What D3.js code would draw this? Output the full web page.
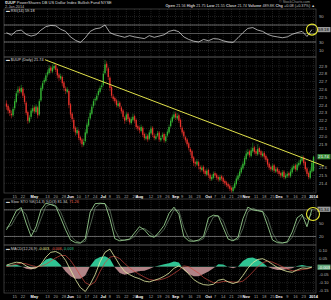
<!DOCTYPE html>
<html>
<head>
<meta charset="utf-8">
<script src="https://cdn.jsdelivr.net/npm/d3@7"></script>
<style>
  body { margin: 0; background: #000; }
  svg { display: block; font-family: "Liberation Sans", Arial, sans-serif; }
</style>
</head>
<body>
<div class="wrapper"></div>
<script>
// daily bars, 8-Apr-2013 .. 2-Jan-2014 (trading day index 0..187)
const opens = [
  22.42,22.39,22.34,22.29,22.27,22.36,22.44,22.56,22.61,22.57,
  22.61,22.52,22.43,22.31,22.19,22.25,22.32,22.37,22.31,22.37,
  22.28,22.46,22.61,22.69,22.71,22.79,22.81,22.88,22.83,22.87,
  22.91,22.86,22.79,22.74,22.76,22.69,22.61,22.57,22.58,22.41,
  22.29,22.21,22.11,22.04,22.07,21.99,21.96,21.89,21.94,22.04,
  22.14,22.23,22.29,22.39,22.46,22.47,22.53,22.57,22.63,22.66,
  22.81,22.93,22.87,22.75,22.63,22.51,22.49,22.46,22.39,22.43,
  22.37,22.33,22.24,22.21,22.29,22.23,22.17,22.21,22.26,22.21,
  22.13,22.11,22.07,22.11,22.03,21.97,22.01,21.97,22.04,22.11,
  22.01,21.97,22.01,22.05,21.95,21.99,22.03,21.94,22.01,22.05,
  22.13,22.19,22.24,22.29,22.23,22.27,22.21,22.11,22.06,21.99,
  21.96,21.91,21.84,21.81,21.73,21.67,21.64,21.67,21.61,21.57,
  21.61,21.56,21.51,21.57,21.51,21.45,21.47,21.53,21.51,21.48,
  21.44,21.49,21.47,21.43,21.41,21.39,21.37,21.34,21.30,21.34,
  21.39,21.45,21.49,21.54,21.59,21.64,21.71,21.77,21.81,21.75,
  21.81,21.86,21.81,21.77,21.85,21.81,21.75,21.79,21.75,21.71,
  21.65,21.61,21.57,21.63,21.55,21.59,21.56,21.53,21.49,21.55,
  21.47,21.49,21.53,21.49,21.54,21.59,21.63,21.57,21.63,21.65,
  21.69,21.73,21.67,21.59,21.53,21.47,21.55,21.56]
const highs = [
  22.46,22.41,22.37,22.33,22.38,22.48,22.58,22.64,22.64,22.66,
  22.63,22.55,22.45,22.33,22.27,22.36,22.40,22.39,22.41,22.39,
  22.48,22.65,22.71,22.75,22.81,22.85,22.91,22.90,22.92,22.95,
  22.93,22.88,22.81,22.80,22.78,22.71,22.64,22.63,22.60,22.43,
  22.31,22.24,22.13,22.12,22.09,22.01,21.98,21.97,22.09,22.18,
  22.25,22.34,22.41,22.48,22.50,22.55,22.61,22.65,22.68,22.84,
  22.98,22.96,22.89,22.77,22.65,22.54,22.51,22.48,22.46,22.45,
  22.39,22.35,22.26,22.31,22.31,22.25,22.25,22.29,22.28,22.23,
  22.15,22.13,22.15,22.13,22.05,22.04,22.03,22.08,22.13,22.13,
  22.04,22.03,22.07,22.07,22.01,22.05,22.05,22.03,22.09,22.15,
  22.23,22.28,22.32,22.31,22.30,22.29,22.23,22.13,22.08,22.01,
  21.98,21.93,21.86,21.83,21.75,21.69,21.71,21.69,21.63,21.63,
  21.63,21.58,21.59,21.59,21.53,21.51,21.55,21.55,21.53,21.50,
  21.51,21.51,21.49,21.45,21.43,21.41,21.39,21.36,21.38,21.43,
  21.49,21.53,21.58,21.63,21.68,21.75,21.82,21.84,21.83,21.86,
  21.92,21.88,21.83,21.90,21.87,21.83,21.81,21.81,21.77,21.73,
  21.67,21.63,21.65,21.65,21.61,21.61,21.58,21.55,21.57,21.57,
  21.53,21.55,21.55,21.58,21.63,21.65,21.65,21.67,21.69,21.73,
  21.76,21.75,21.69,21.61,21.55,21.59,21.69,21.75]
const lows = [
  22.34,22.29,22.26,22.23,22.25,22.33,22.42,22.52,22.55,22.55,
  22.49,22.41,22.27,22.16,22.17,22.22,22.30,22.29,22.29,22.23,
  22.26,22.44,22.58,22.66,22.69,22.76,22.79,22.81,22.81,22.85,
  22.82,22.74,22.71,22.72,22.64,22.58,22.54,22.55,22.36,22.24,
  22.18,22.06,22.01,22.02,21.95,21.91,21.86,21.87,21.92,22.02,
  22.12,22.21,22.27,22.36,22.40,22.45,22.51,22.55,22.60,22.64,
  22.79,22.84,22.72,22.58,22.49,22.45,22.42,22.37,22.37,22.35,
  22.29,22.22,22.16,22.19,22.19,22.15,22.15,22.19,22.17,22.09,
  22.07,22.04,22.05,21.99,21.95,21.95,21.93,21.95,22.02,21.99,
  21.95,21.95,21.99,21.93,21.93,21.97,21.92,21.92,21.99,22.03,
  22.11,22.17,22.22,22.21,22.21,22.17,22.09,22.02,21.97,21.92,
  21.87,21.82,21.76,21.68,21.62,21.61,21.62,21.58,21.54,21.55,
  21.52,21.49,21.49,21.47,21.43,21.43,21.45,21.47,21.44,21.42,
  21.42,21.43,21.39,21.37,21.35,21.33,21.30,21.28,21.28,21.32,
  21.37,21.43,21.47,21.52,21.57,21.62,21.69,21.75,21.73,21.73,
  21.79,21.77,21.75,21.75,21.77,21.73,21.73,21.71,21.67,21.61,
  21.57,21.55,21.55,21.53,21.53,21.52,21.49,21.47,21.47,21.45,
  21.45,21.47,21.47,21.47,21.52,21.57,21.55,21.55,21.61,21.63,
  21.67,21.63,21.55,21.49,21.45,21.45,21.53,21.55]
const closes = [
  22.38,22.33,22.30,22.27,22.35,22.45,22.55,22.60,22.58,22.62,
  22.52,22.44,22.30,22.20,22.24,22.33,22.36,22.32,22.38,22.27,
  22.45,22.62,22.68,22.72,22.78,22.82,22.87,22.84,22.88,22.90,
  22.85,22.78,22.75,22.77,22.68,22.62,22.58,22.60,22.40,22.28,
  22.22,22.10,22.05,22.08,21.98,21.95,21.90,21.93,22.05,22.15,
  22.22,22.30,22.38,22.45,22.48,22.52,22.58,22.62,22.65,22.80,
  22.92,22.88,22.76,22.62,22.52,22.48,22.45,22.40,22.42,22.38,
  22.32,22.25,22.20,22.28,22.22,22.18,22.22,22.25,22.20,22.12,
  22.10,22.08,22.12,22.02,21.98,22.00,21.96,22.05,22.10,22.02,
  21.98,22.00,22.04,21.96,21.98,22.02,21.95,22.00,22.06,22.12,
  22.20,22.25,22.28,22.24,22.26,22.20,22.12,22.05,22.00,21.95,
  21.90,21.85,21.80,21.72,21.66,21.65,21.68,21.62,21.58,21.60,
  21.55,21.52,21.56,21.50,21.46,21.48,21.52,21.50,21.47,21.45,
  21.48,21.46,21.42,21.40,21.38,21.36,21.33,21.31,21.35,21.40,
  21.46,21.50,21.55,21.60,21.65,21.72,21.78,21.80,21.76,21.82,
  21.85,21.80,21.78,21.84,21.80,21.76,21.78,21.74,21.70,21.64,
  21.60,21.58,21.62,21.56,21.58,21.55,21.52,21.50,21.54,21.48,
  21.50,21.52,21.50,21.55,21.60,21.62,21.58,21.64,21.66,21.70,
  21.72,21.66,21.58,21.52,21.48,21.56,21.66,21.74]

// x axis labels (trading day index -> label)
const tickDays = [5,10,17,25,30,35,39,44,49,54,59,63,68,73,78,81,88,93,98,103,107,112,117,123,127,132,137,142,146,152,157,162,166,171,176,181,187]
const tickLabels = ['15','22','May','13','20','28','Jun','10','17','24','Jul','8','15','22','29','Aug','12','19','26','Sep','9','16','23','Oct','7','14','21','28','Nov','11','18','25','Dec','9','16','23','2014']

// indicators read every 3rd trading day
const indStep = 3
const rsi = [52,46,56,58,48,44,47,58,66,69, 68,60,55,42,34,29,40,55,61,63,
  70,52,47,44,41,45,42,40,38,45, 41,44,47,55,58,54,42,36,32,30,
  36,33,38,37,33,30,29,40,52,62, 64,58,55,48,44,42,40,42,48,52, 55,43,59.18]
const stoK = [35,55,78,85,50,20,42,80,95,92, 88,62,35,12,6,5,15,75,94,95,
  94,60,15,10,12,14,28,42,35,22, 18,30,45,72,86,70,20,10,9,12,
  20,62,68,66,40,14,10,18,60,86, 80,78,76,45,12,6,5,8,30,62, 70,42,81.34]
const stoD = [40,45,65,80,70,35,30,60,88,93, 90,75,48,22,10,6,9,45,85,94,
  94,80,35,14,11,13,20,35,38,30, 20,24,36,58,80,78,40,15,10,10,
  15,42,64,67,55,25,12,13,38,75, 84,79,77,62,28,9,6,6,18,46, 66,58,71.26]
const macd = [0.010,0.020,0.028,0.025,0.005,-0.010,-0.008,0.015,0.060,0.090,
  0.095,0.080,0.040,-0.020,-0.080,-0.130,-0.155,-0.110,-0.050,0.030,
  0.090,0.110,0.060,0.010,-0.030,-0.050,-0.065,-0.075,-0.090,-0.095,
  -0.085,-0.075,-0.060,-0.040,-0.010,0.005,-0.015,-0.045,-0.080,-0.100,
  -0.112,-0.115,-0.110,-0.085,-0.078,-0.095,-0.105,-0.095,-0.055,-0.010,
  0.025,0.045,0.050,0.035,0.015,-0.005,-0.020,-0.030,-0.035,-0.020,
  -0.008,-0.010,-0.003]
const signal = [0.000,0.008,0.016,0.022,0.018,0.008,0.000,0.002,0.015,0.035,
  0.055,0.070,0.070,0.040,-0.005,-0.055,-0.100,-0.115,-0.095,-0.030,
  0.025,0.060,0.065,0.050,0.020,-0.008,-0.030,-0.048,-0.065,-0.080,
  -0.085,-0.082,-0.075,-0.062,-0.042,-0.022,0.005,0.000,-0.020,-0.040,
  -0.067,-0.085,-0.100,-0.100,-0.092,-0.093,-0.096,-0.097,-0.090,-0.065,
  -0.033,0.000,0.025,0.035,0.028,0.015,0.000,-0.015,-0.025,-0.025,
  -0.018,-0.014,-0.006]
const hist = [0.010,0.012,0.012,0.003,-0.013,-0.018,-0.008,0.013,0.045,0.055,
  0.040,0.010,-0.030,-0.060,-0.075,-0.075,-0.055,0.005,0.045,0.060,
  0.065,0.050,-0.005,-0.040,-0.050,-0.042,-0.035,-0.027,-0.025,-0.015,
  0.000,0.007,0.015,0.022,0.032,0.027,-0.020,-0.045,-0.060,-0.060,
  -0.045,-0.030,-0.010,0.015,0.014,-0.002,-0.009,0.002,0.035,0.055,
  0.058,0.045,0.025,0.000,-0.013,-0.020,-0.020,-0.015,-0.010,0.005,
  0.010,0.004,0.003]

// hand-drawn trendline: [day, price]
const trendLine = [[23.5, 22.98], [193.5, 21.62]]

const priceTicks = [21.4,21.5,21.6,21.7,21.8,21.9,22.0,22.1,22.2,22.3,22.4,22.5,22.6,22.7,22.8,22.9]
const rsiTicks = [10, 30, 70, 90]
const stoTicks = [20, 50, 80]
const macdTicks = [-0.15, -0.10, -0.05, 0.05, 0.10]

const width = 331, height = 300
const left = 4, right = 316

const panels = {
  rsi: { top: 9, bottom: 57 },
  price: { top: 57, bottom: 193 },
  sto: { top: 199, bottom: 245 },
  macd: { top: 245, bottom: 293 },
}

const x = d3.scaleLinear().domain([-1.5, 188.5]).range([left, right])
const yRsi = d3.scaleLinear().domain([0, 100]).range([54.75, 12.25])
const yPrice = d3.scaleLinear().domain([21.8, 22.9]).range([152, 66])
const ySto = d3.scaleLinear().domain([0, 100]).range([245.3, 201])
const yMacd = d3.scaleLinear().domain([0, 0.1]).range([266.7, 250.7])

const svg = d3.select('.wrapper')
  .append('svg')
  .attr('width', width)
  .attr('height', height)

svg.append('rect').attr('width', width).attr('height', height).attr('fill', '#000')

const defs = svg.append('defs')

// panel frame + grid + clip; right labels skip the spot taken by the value box
function panel(name, yScale, ticks, fmt, boxValue) {
  const p = panels[name]
  defs.append('clipPath').attr('id', 'clip-' + name)
    .append('rect').attr('x', left).attr('y', p.top).attr('width', right - left).attr('height', p.bottom - p.top)

  const g = svg.append('g')
  g.selectAll('line.vgrid')
    .data(tickDays)
    .join('line')
    .attr('x1', d => x(d)).attr('x2', d => x(d))
    .attr('y1', p.top).attr('y2', p.bottom)
    .attr('stroke', '#333').attr('stroke-width', 0.6).attr('stroke-dasharray', '1,1')

  g.selectAll('line.hgrid')
    .data(ticks)
    .join('line')
    .attr('x1', left).attr('x2', right)
    .attr('y1', d => yScale(d)).attr('y2', d => yScale(d))
    .attr('stroke', '#333').attr('stroke-width', 0.6).attr('stroke-dasharray', '1,1')

  g.selectAll('text.rlab')
    .data(ticks.filter(t => Math.abs(yScale(t) - yScale(boxValue)) > 5.5))
    .join('text')
    .attr('x', right + 3).attr('y', d => yScale(d) + 1.5)
    .attr('font-size', 4.2).attr('fill', '#b0b0b0')
    .text(fmt)

  g.append('rect')
    .attr('x', left).attr('y', p.top).attr('width', right - left).attr('height', p.bottom - p.top)
    .attr('fill', 'none').attr('stroke', '#5a5a5a').attr('stroke-width', 0.6)

  return svg.append('g').attr('clip-path', `url(#clip-${name})`)
}

function valueBox(y, label, bg, fg) {
  svg.append('rect').attr('x', right + 1.5).attr('y', y - 2.6).attr('width', 13).attr('height', 5.2).attr('fill', bg)
  svg.append('text').attr('x', right + 2.3).attr('y', y + 1.6).attr('font-size', 4.2).attr('fill', fg).text(label)
}

// header
svg.append('text').attr('x', 5).attr('y', 3.6).attr('font-size', 4).attr('fill', '#ddd')
  .html('<tspan font-weight="bold">$UUP</tspan> PowerShares DB US Dollar Index Bullish Fund NYSE')
svg.append('text').attr('x', 5).attr('y', 7.8).attr('font-size', 3.8).attr('fill', '#bbb').text('2-Jan-2014')
svg.append('text').attr('x', 310).attr('y', 3.2).attr('font-size', 3.6).attr('fill', '#999')
  .attr('text-anchor', 'end').text('© StockCharts.com')
svg.append('text').attr('x', 315).attr('y', 7.4).attr('font-size', 3.8).attr('fill', '#ccc')
  .attr('text-anchor', 'end')
  .html('<tspan font-weight="bold">Open</tspan> 21.56 <tspan font-weight="bold">High</tspan> 21.75 <tspan font-weight="bold">Low</tspan> 21.55 <tspan font-weight="bold">Close</tspan> 21.74 <tspan font-weight="bold">Volume</tspan> 489.8K <tspan font-weight="bold">Chg</tspan> +0.08 (+0.37%) ▲')

const days = d3.range(closes.length)
const indX = (d, k) => x(k * indStep)

// RSI
const gRsi = panel('rsi', yRsi, rsiTicks, d => d, 59.18)
;[70, 50, 30].forEach(v => {
  gRsi.append('line').attr('x1', left).attr('x2', right).attr('y1', yRsi(v)).attr('y2', yRsi(v))
    .attr('stroke', v === 50 ? '#8a8a8a' : '#aaaaaa').attr('stroke-width', 0.6)
})
gRsi.append('path')
  .datum(rsi)
  .attr('fill', 'none').attr('stroke', '#e6e6e6').attr('stroke-width', 0.7)
  .attr('d', d3.line().x(indX).y(d => yRsi(d)))
svg.append('text').attr('x', 6).attr('y', 12.3).attr('font-size', 3.8).attr('fill', '#ddd').text('▬ RSI(14) 59.18')
valueBox(yRsi(59.18), '59.18', '#9a9a9a', '#000')

// price
const gPrice = panel('price', yPrice, priceTicks, d => d.toFixed(1), 21.74)
const candle = gPrice.selectAll('g.bar')
  .data(days)
  .join('g')
  .attr('class', 'bar')
const col = i => closes[i] >= opens[i] ? '#35b535' : '#e8322b'
candle.append('line')
  .attr('x1', i => x(i)).attr('x2', i => x(i))
  .attr('y1', i => yPrice(highs[i])).attr('y2', i => yPrice(lows[i]))
  .attr('stroke', col).attr('stroke-width', 0.5)
candle.append('rect')
  .attr('x', i => x(i) - 0.65)
  .attr('width', 1.3)
  .attr('y', i => yPrice(Math.max(opens[i], closes[i])))
  .attr('height', i => Math.max(0.7, Math.abs(yPrice(opens[i]) - yPrice(closes[i]))))
  .attr('fill', col)
svg.append('text').attr('x', 6).attr('y', 61).attr('font-size', 3.8).attr('fill', '#ddd').text('▬ $UUP (Daily) 21.74')
svg.append('line')
  .attr('x1', x(trendLine[0][0])).attr('y1', yPrice(trendLine[0][1]))
  .attr('x2', x(trendLine[1][0])).attr('y2', yPrice(trendLine[1][1]))
  .attr('stroke', '#e2e24a').attr('stroke-width', 1)
valueBox(yPrice(closes[closes.length - 1]), '21.74', '#3c8f3c', '#fff')

// x axis labels
function xLabels(y) {
  const bold = i => isNaN(+tickLabels[i]) || tickLabels[i] === '2014'
  svg.selectAll(null)
    .data(tickDays)
    .join('text')
    .attr('x', d => x(d)).attr('y', y)
    .attr('text-anchor', 'middle')
    .attr('font-size', 3.9)
    .attr('font-weight', (d, i) => bold(i) ? 'bold' : 'normal')
    .attr('fill', (d, i) => bold(i) ? '#fff' : '#aaa')
    .text((d, i) => tickLabels[i])
}
xLabels(197.6)
xLabels(297.6)

// slow stochastic
const gSto = panel('sto', ySto, stoTicks, d => d, 81.34)
;[80, 20].forEach(v => {
  gSto.append('line').attr('x1', left).attr('x2', right).attr('y1', ySto(v)).attr('y2', ySto(v))
    .attr('stroke', '#a0a0a0').attr('stroke-width', 0.6)
})
gSto.append('path')
  .datum(stoD)
  .attr('fill', 'none').attr('stroke', '#7e9a7e').attr('stroke-width', 0.6)
  .attr('d', d3.line().x(indX).y(d => ySto(d)))
gSto.append('path')
  .datum(stoK)
  .attr('fill', 'none').attr('stroke', '#a8e6a0').attr('stroke-width', 0.8)
  .attr('d', d3.line().x(indX).y(d => ySto(d)))
svg.append('text').attr('x', 6).attr('y', 203).attr('font-size', 3.8).attr('fill', '#ccc')
  .html('▬ Slow STO %K(14,3) %D(3) 81.34, <tspan fill="#e86a5a">71.26</tspan>')
valueBox(ySto(81.34), '81.34', '#9a9a9a', '#000')

// MACD
const gMacd = panel('macd', yMacd, macdTicks, d => d.toFixed(2), -0.003)
const z = yMacd(0)
defs.append('clipPath').attr('id', 'clip-pos')
  .append('rect').attr('x', left).attr('y', panels.macd.top).attr('width', right - left).attr('height', z - panels.macd.top)
defs.append('clipPath').attr('id', 'clip-neg')
  .append('rect').attr('x', left).attr('y', z).attr('width', right - left).attr('height', panels.macd.bottom - z)
const histArea = d3.area().x(indX).y0(z).y1(d => yMacd(d))
gMacd.append('path').datum(hist).attr('clip-path', 'url(#clip-pos)')
  .attr('fill', '#2fc493').attr('d', histArea)
gMacd.append('path').datum(hist).attr('clip-path', 'url(#clip-neg)')
  .attr('fill', '#b08386').attr('d', histArea)
gMacd.append('path')
  .datum(signal)
  .attr('fill', 'none').attr('stroke', '#c8463e').attr('stroke-width', 0.7)
  .attr('d', d3.line().x(indX).y(d => yMacd(d)))
gMacd.append('path')
  .datum(macd)
  .attr('fill', 'none').attr('stroke', '#e6efa6').attr('stroke-width', 0.8)
  .attr('d', d3.line().x(indX).y(d => yMacd(d)))
svg.append('text').attr('x', 6).attr('y', 250).attr('font-size', 3.8).attr('fill', '#ccc')
  .html('▬ MACD(12,26,9) <tspan fill="#e6efa6">-0.003</tspan>, <tspan fill="#e86a5a">-0.006</tspan>, <tspan fill="#2fc493">0.003</tspan>')
valueBox(yMacd(-0.003), '-0.003', '#5fa77a', '#fff')

// yellow highlight circles
svg.append('ellipse').attr('cx', 312).attr('cy', yRsi(59.18)).attr('rx', 5.5).attr('ry', 5.5)
  .attr('fill', 'none').attr('stroke', '#e8e830').attr('stroke-width', 1.1)
svg.append('ellipse').attr('cx', 313).attr('cy', 214).attr('rx', 6.5).attr('ry', 6.5)
  .attr('fill', 'none').attr('stroke', '#e8e830').attr('stroke-width', 1.1)
</script>
</body>
</html>
